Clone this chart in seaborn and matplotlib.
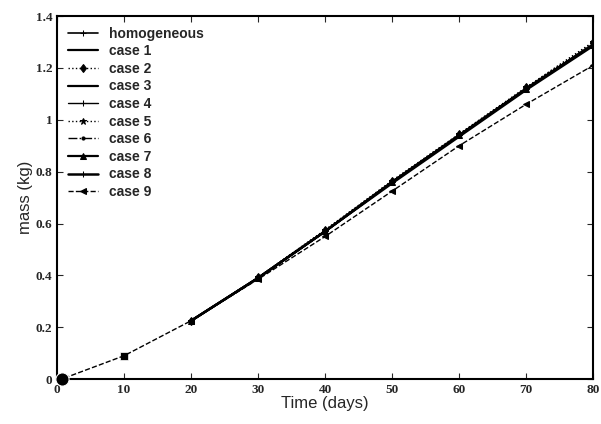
import pandas as pd
import matplotlib
matplotlib.use("Agg")
import matplotlib.pyplot as plt
import seaborn as sns

days_full = [0, 1, 10, 20, 30, 40, 50, 60, 70, 80]
days = [20, 30, 40, 50, 60, 70, 80]

homogeneous = [0.225, 0.39, 0.57, 0.76, 0.94, 1.12, 1.29]
case1 = [0.225, 0.39, 0.57, 0.76, 0.94, 1.12, 1.29]
case2 = [0.225, 0.392, 0.575, 0.765, 0.945, 1.125, 1.30]
case3 = [0.225, 0.39, 0.57, 0.755, 0.935, 1.115, 1.285]
case4 = [0.225, 0.39, 0.57, 0.76, 0.94, 1.12, 1.29]
case5 = [0.225, 0.392, 0.575, 0.765, 0.945, 1.125, 1.30]
case6 = [0.225, 0.39, 0.57, 0.76, 0.94, 1.12, 1.29]
case7 = [0.225, 0.39, 0.57, 0.76, 0.94, 1.12, 1.29]
case8 = [0.225, 0.39, 0.57, 0.76, 0.94, 1.12, 1.29]
case9 = [0.0, 0.003, 0.09, 0.225, 0.385, 0.55, 0.725, 0.90, 1.06, 1.21]

series = [
    ("homogeneous", days, homogeneous, "-", "+", 1.2),
    ("case 1", days, case1, "-", None, 1.6),
    ("case 2", days, case2, ":", "d", 1.0),
    ("case 3", days, case3, "-", None, 1.6),
    ("case 4", days, case4, "-", "+", 1.0),
    ("case 5", days, case5, ":", "*", 1.0),
    ("case 6", days, case6, "-.", ".", 1.0),
    ("case 7", days, case7, "-", "^", 1.6),
    ("case 8", days, case8, "-", "+", 1.8),
    ("case 9", days_full, case9, "--", "<", 1.0),
]

sns.set_style("ticks")
plt.rcParams["font.family"] = ["Liberation Sans", "DejaVu Sans"]

fig = plt.figure(figsize=(6.01, 4.24), dpi=100)
ax = fig.add_axes([0.095, 0.106, 0.892, 0.856])

for name, x, y, ls, mk, lw in series:
    sns.lineplot(x=x, y=y, ax=ax, color="black", linestyle=ls, marker=mk,
                 markersize=4.5, linewidth=lw, label=name,
                 markeredgecolor="black", markerfacecolor="black")

# filled markers at the start and at day 10
sns.scatterplot(x=[0.7], y=[0.0], ax=ax, color="black", s=90, marker="o",
                legend=False, clip_on=False, zorder=5)
sns.scatterplot(x=[10], y=[0.09], ax=ax, color="black", s=40, marker="s", legend=False)

ax.set_xlim(0, 80)
ax.set_ylim(0, 1.4)
ax.set_xticks(range(0, 81, 10))
ax.set_yticks([0, 0.2, 0.4, 0.6, 0.8, 1.0, 1.2, 1.4])
ax.set_yticklabels(["0", "0.2", "0.4", "0.6", "0.8", "1", "1.2", "1.4"])
ax.tick_params(direction="in", top=True, right=True, length=4, labelsize=9.5)
for lab in ax.get_xticklabels() + ax.get_yticklabels():
    lab.set_fontfamily("Liberation Serif")
    lab.set_fontweight("bold")
for sp in ax.spines.values():
    sp.set_linewidth(1.5)
    sp.set_color("black")

ax.set_xlabel("Time (days)", fontsize=12, labelpad=0)
ax.set_ylabel("mass (kg)", fontsize=12, labelpad=2)

leg = ax.legend(loc="upper left", frameon=False, fontsize=10, handlelength=2.2,
                labelspacing=0.26, borderaxespad=0.35)
for t in leg.get_texts():
    t.set_fontweight("bold")

plt.savefig("out.png", dpi=100)
plt.close()
